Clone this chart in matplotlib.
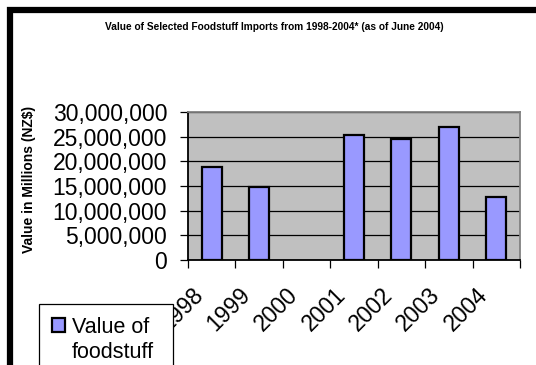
import numpy as np
import matplotlib.pyplot as plt
import matplotlib.transforms as mtransforms
from matplotlib.patches import Patch, Rectangle
from matplotlib.ticker import FuncFormatter

plt.rcParams['font.family'] = ['Liberation Sans', 'DejaVu Sans']

# Import values per year (2000 has no figure)
years = ['1998', '1999', '2000', '2001', '2002', '2003', '2004']
values = [18900000, 14800000, None, 25300000, 24500000, 27000000, 12800000]
y_ticks = [0, 5000000, 10000000, 15000000, 20000000, 25000000, 30000000]

title = 'Value of Selected Foodstuff Imports from 1998-2004* (as of June 2004)'
y_title = 'Value in Millions (NZ$)'
legend_lines = ['Value of', 'foodstuff']

W, H = 536, 365
fig = plt.figure(figsize=(W / 100, H / 100), dpi=100, facecolor='white')
ax = fig.add_axes([188 / W, 1 - 260 / H, (520 - 188) / W, (260 - 112) / H])

x = np.arange(len(years))
heights = np.array([np.nan if v is None else v for v in values], dtype=float)
ax.set_facecolor('#C0C0C0')
ax.bar(x, heights, width=0.42, color='#9999FF', edgecolor='black',
       linewidth=1.6, zorder=3)

ax.set_xlim(-0.5, len(years) - 0.5)
ax.set_ylim(0, 30000000)
ax.set_yticks(y_ticks)
ax.yaxis.set_major_formatter(FuncFormatter(lambda v, p: f'{int(v):,}'))
ax.yaxis.grid(True, color='black', linewidth=0.9, zorder=1)
ax.set_axisbelow(True)
ax.tick_params(axis='y', length=6, width=0.9, pad=9, labelsize=16.5)

# category boundaries get the tick marks, centres get the labels
ax.set_xticks(np.arange(len(years) + 1) - 0.5, minor=True)
ax.set_xticks(x)
ax.set_xticklabels(years, rotation=45, ha='right', va='top')
ax.tick_params(axis='x', which='major', length=0, pad=17, labelsize=16.5)
ax.tick_params(axis='x', which='minor', length=6, width=0.9)
shift = mtransforms.ScaledTranslation(-0.04, 0, fig.dpi_scale_trans)
for lbl in ax.get_xticklabels():
    lbl.set_transform(lbl.get_transform() + shift)

for s in ax.spines.values():
    s.set_color('#808080')
    s.set_linewidth(1.3)
ax.spines['bottom'].set_color('black')
ax.spines['left'].set_color('black')

fig.text(274 / W, 1 - 27 / H, title, ha='center', va='center',
         fontsize=7.3, fontweight='bold')
fig.text(29 / W, 1 - 179 / H, y_title, rotation=90, ha='center',
         va='center', fontsize=10, fontweight='bold')

# legend: square swatch on the first line, second line has no swatch
handles = [Patch(facecolor='#9999FF', edgecolor='black', linewidth=1.6),
           Patch(facecolor='none', edgecolor='none')]
leg = fig.legend(handles, legend_lines, loc='upper left', mode='expand',
                 bbox_to_anchor=(39 / W, 0, 134 / W, 1 - 304 / H),
                 bbox_transform=fig.transFigure, borderaxespad=0,
                 fontsize=15.5, handlelength=0.62, handleheight=0.62,
                 handletextpad=0.3, labelspacing=0.18, borderpad=0.6,
                 fancybox=False, framealpha=1, edgecolor='black')
leg.get_frame().set_linewidth(0.9)

# outer black frame running off the right and bottom
fig.patches.append(Rectangle((10 / W, -0.2), 1.2, 1 - 10 / H + 0.2,
                             transform=fig.transFigure, fill=False,
                             edgecolor='black', linewidth=4.5, zorder=10))

fig.savefig('out.png', dpi=100)
